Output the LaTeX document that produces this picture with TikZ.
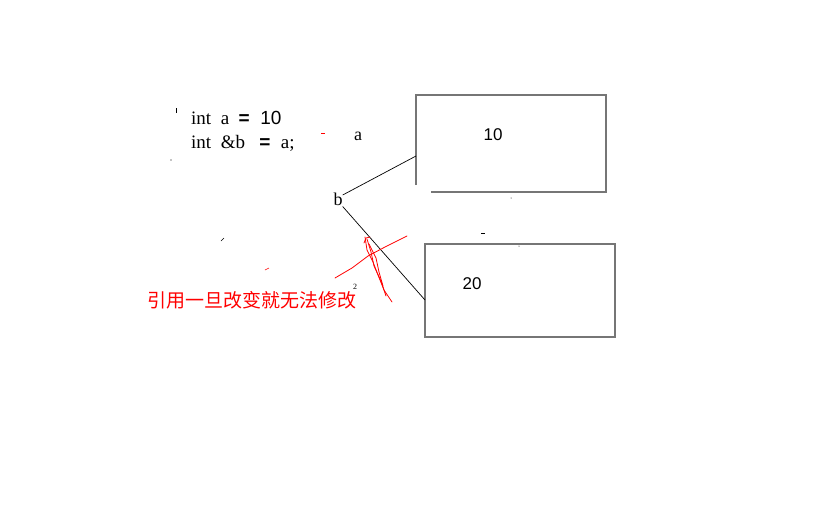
\documentclass[tikz,border=0pt]{standalone}
\usepackage{fontspec}
\setmainfont{Liberation Serif}
\newfontfamily\sansf{Liberation Sans}
\newfontfamily\cjk{Noto Sans CJK SC}
\usetikzlibrary{positioning,calc}
\definecolor{boxgray}{RGB}{118,118,118}
\definecolor{inkred}{RGB}{255,0,0}

\begin{document}
\begin{tikzpicture}[x=1pt,y=-1pt,
  boxline/.style={draw=boxgray,line width=1.5pt},
  memcell/.style={minimum width=190pt,minimum height=97pt,inner sep=0pt},
  codetext/.style={anchor=west,inner sep=0pt,font=\fontsize{19}{22}\selectfont},
  valtext/.style={inner sep=0pt,font=\sansf\fontsize{17}{19}\selectfont},
  link/.style={draw=black,line width=0.7pt},
  scribble/.style={draw=inkred,line width=0.8pt,line cap=round,line join=round}]

\useasboundingbox (0,0) rectangle (823,509);

% code
\node [codetext] (code1) at (191,118) {int\ \ a\ \ {\sansf\bfseries =\ \ }{\sansf 10}};
\node [codetext] (code2) at (191,143) {int\ \ \&b\ \ \ {\sansf\bfseries =\ \ }a;};

% memory cells
\node [memcell] (boxa) at (511,143.5) {};
\node [memcell,minimum height=93pt] (boxb) at (520,290.5) {};
\draw [boxline] ($(boxa.south west)+(0,-7)$) -- (boxa.north west) -- (boxa.north east)
  -- (boxa.south east) -- ($(boxa.south west)+(15,0)$);
\draw [boxline] (boxb.south west) rectangle (boxb.north east);
\node [valtext] (vala) at (493,135) {10};
\node [valtext] (valb) at (472,284) {20};

% names
\node [inner sep=0pt,font=\fontsize{18}{20}\selectfont] (la) at (358,136) {a};
\node [inner sep=0pt,font=\fontsize{18}{20}\selectfont] (lb) at (338,199) {b};
\coordinate (ina) at (416,156);
\coordinate (inb) at (425,300);
\draw [link] ($(lb.east)+(0,-4)$) -- (ina);
\draw [link] ($(lb.south east)+(0,1)$) -- (inb);

% crossed out
\draw [scribble] (335,278) -- (352,268) -- (368,256) -- (385,247) -- (407,236);
\draw [scribble] (365,237) -- (367,250) -- (373,262) -- (378,275) -- (384,290) -- (392,302);
\draw [scribble] (367,239) -- (371,252) -- (374,266) -- (381,281) -- (386,296);
\draw [scribble] (369,244) -- (376,258) -- (379,272) -- (383,286);
\draw [scribble] (364,243) -- (366,238) -- (370,237);

\node [inner sep=0pt,text=inkred,font=\cjk\fontsize{19}{21}\selectfont] (note) at (252,300) {引用一旦改变就无法修改};

% stray marks
\draw [line width=0.8pt] (176,108) -- (176,113);
\fill (171,160) circle (0.6);
\draw [inkred,line width=0.8pt] (321,133) -- (325,133);
\draw [line width=0.8pt] (481,233) -- (485,233);
\fill (511,198) circle (0.5);
\fill (519,246) circle (0.5);
\draw [line width=0.6pt] (221,241) -- (224,238);
\draw [inkred,line width=0.6pt] (265,270) -- (269,268);
\node [inner sep=0pt,font=\fontsize{8}{8}\selectfont] (two) at (355,287) {2};
\end{tikzpicture}
\end{document}
